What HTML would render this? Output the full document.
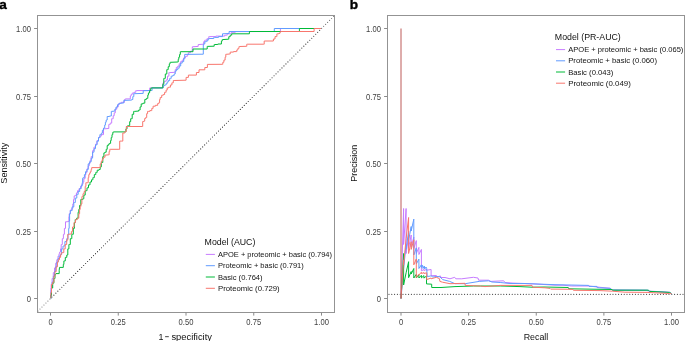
<!DOCTYPE html>
<html><head><meta charset="utf-8"><style>
html,body{margin:0;padding:0;background:#fff;width:685px;height:341px;overflow:hidden}
svg{display:block;font-family:"Liberation Sans",sans-serif}
#w{width:685px;height:341px;will-change:transform}
</style></head><body><div id="w">
<svg width="685" height="341" viewBox="0 0 685 341">
<rect width="685" height="341" fill="#fff"/>
<text x="-0.8" y="9.45" font-size="13.6" stroke="#000" stroke-width="0.4" font-weight="bold" fill="#000">a</text>
<text x="349.7" y="9.4" font-size="13.6" stroke="#000" stroke-width="0.4" font-weight="bold" fill="#000">b</text>
<line x1="38.00" y1="310.95" x2="334.50" y2="15.55" stroke="#333" stroke-width="1.15" stroke-linecap="round" stroke-dasharray="0 2.8"/>
<line x1="37.00" y1="311.95" x2="50.5" y2="298.5" stroke="#fff" stroke-width="2" stroke-opacity="0.35"/>
<line x1="321.5" y1="28.5" x2="335.50" y2="14.55" stroke="#fff" stroke-width="2" stroke-opacity="0.35"/>
<polyline points="50.9,298.3 50.9,290.3 51.2,290.3 51.2,284.4 51.5,284.4 52.1,284.4 52.1,278.5 52.7,278.5 53.3,278.5 53.3,272.6 53.9,272.6 54.5,272.6 54.5,267.9 55.1,267.9 55.7,267.9 55.7,263.2 56.2,263.2 56.8,263.2 56.8,259.7 57.4,259.7 58.0,259.7 58.0,256.2 58.6,256.2 59.0,256.2 59.0,253.7 59.3,253.7 59.7,253.7 59.7,252.0 60.1,252.0 60.5,252.0 60.5,248.9 60.9,248.9 61.2,248.9 61.2,244.5 61.6,244.5 62.3,244.5 62.3,238.7 63.0,238.7 63.4,238.7 63.4,234.3 63.8,234.3 64.4,234.3 64.4,228.4 65.0,228.4 65.5,228.4 65.5,221.8 66.0,221.8 67.5,221.8 67.5,221.4 68.9,221.4 68.9,216.7 69.2,216.7 69.2,213.8 69.6,213.8 70.3,213.8 70.3,210.1 71.1,210.1 71.8,210.1 71.8,208.3 72.4,208.3 72.8,208.3 72.8,203.9 73.1,203.9 73.5,203.9 73.5,199.5 73.9,199.5 74.2,199.5 74.2,195.9 74.6,195.9 75.3,195.9 75.3,195.4 76.1,195.4 76.4,195.4 76.4,192.9 76.8,192.9 77.5,192.9 77.5,190.7 78.2,190.7 79.0,190.7 79.0,188.6 79.7,188.6 80.5,188.6 80.5,186.4 81.2,186.4 81.9,186.4 81.9,184.2 82.6,184.2 83.0,184.2 83.0,182.0 83.4,182.0 83.8,182.0 83.8,179.0 84.1,179.0 84.4,179.0 84.4,178.3 84.8,178.3 85.2,178.3 85.2,174.6 85.6,174.6 85.9,174.6 85.9,172.4 86.3,172.4 87.0,172.4 87.0,168.8 87.8,168.8 88.2,168.8 88.2,165.9 88.5,165.9 89.2,165.9 89.2,162.9 90.0,162.9 90.2,162.9 90.2,160.3 90.4,160.3 91.2,160.3 91.2,156.6 91.9,156.6 92.6,156.6 92.6,150.7 93.3,150.7 94.0,150.7 94.0,147.1 94.8,147.1 95.5,147.1 95.5,144.2 96.2,144.2 97.0,144.2 97.0,140.5 97.7,140.5 98.5,140.5 98.5,137.6 99.2,137.6 99.9,137.6 99.9,136.1 100.6,136.1 101.3,136.1 101.3,134.6 102.1,134.6 103.5,134.6 103.5,128.8 105.0,128.8 108.0,128.5 108.8,128.5 108.8,124.5 109.5,124.5 110.2,124.5 110.2,123.1 110.9,123.1 111.7,123.1 111.7,118.7 112.4,118.7 113.2,118.7 113.2,115.7 113.9,115.7 114.2,115.7 114.2,112.8 114.6,112.8 115.3,112.8 115.3,109.2 116.1,109.2 116.8,109.2 116.8,107.0 117.5,107.0 118.2,107.0 118.2,104.0 119.0,104.0 119.7,104.0 119.7,103.3 120.4,103.3 121.2,103.3 121.2,102.3 121.9,102.3 124.1,102.3 124.4,102.3 124.4,99.6 124.8,99.6 125.3,99.6 125.3,98.9 125.8,98.9 130.0,98.9 130.3,98.9 130.3,96.0 130.7,96.0 131.1,96.0 131.1,94.5 131.4,94.5 132.2,94.5 132.2,93.1 132.9,93.1 134.0,93.1 134.0,92.3 135.1,92.3 135.8,92.3 135.8,90.6 136.6,90.6 149.6,90.5 149.8,87.9 162.6,87.9 162.9,87.9 162.9,83.0 163.2,83.0 163.6,83.0 163.6,82.1 163.9,82.1 164.6,82.1 164.6,81.4 165.3,81.4 166.1,81.4 166.1,79.9 166.8,79.9 167.5,79.9 167.5,76.2 168.2,76.2 168.9,76.2 168.9,72.6 169.7,72.6 174.8,72.3 175.2,72.3 175.2,69.6 175.6,69.6 176.3,69.6 176.3,67.4 177.0,67.4 177.8,67.4 177.8,66.0 178.5,66.0 179.2,66.0 179.2,63.8 180.0,63.8 180.7,63.8 180.7,61.6 181.4,61.6 182.2,61.6 182.2,60.1 182.9,60.1 183.7,60.1 183.7,57.9 184.4,57.9 185.4,57.9 185.4,56.5 186.5,56.5 187.2,56.5 187.2,54.9 187.9,54.9 188.3,54.9 188.3,52.7 188.7,52.7 190.5,52.7 190.5,51.2 192.3,51.2 192.3,46.8 198.2,46.4 198.2,44.6 203.3,44.2 203.7,44.2 203.7,41.7 204.0,41.7 204.8,41.7 204.8,40.2 205.5,40.2 206.9,40.2 206.9,38.8 208.4,38.8 208.8,38.8 208.8,36.6 209.2,36.6 215.8,36.6 215.8,36.1 222.5,36.1 224.7,36.1 224.7,35.2 226.9,35.2 227.2,35.2 227.2,33.8 227.6,33.8 231.3,33.8 231.3,32.3 235.0,32.3 235.3,32.3 235.3,31.6 235.7,31.6 280.4,31.5 280.4,28.5 321.2,28.5" fill="none" stroke="#C77CFF" stroke-width="1" stroke-linejoin="miter"/>
<polyline points="50.9,298.3 51.2,298.3 51.2,288.0 51.5,288.0 52.1,288.0 52.1,282.1 52.7,282.1 53.3,282.1 53.3,276.2 53.9,276.2 54.5,276.2 54.5,271.5 55.1,271.5 55.7,271.5 55.7,266.8 56.2,266.8 56.8,266.8 56.8,262.1 57.4,262.1 58.0,262.1 58.0,258.5 58.6,258.5 59.2,258.5 59.2,256.2 59.8,256.2 60.3,256.2 60.3,254.5 60.9,254.5 61.6,254.5 61.6,248.9 62.3,248.9 63.0,248.9 63.0,246.0 63.8,246.0 64.9,246.0 64.9,241.6 66.0,241.6 66.7,241.6 66.7,238.7 67.4,238.7 68.0,238.7 68.0,234.3 68.5,234.3 68.7,234.3 68.7,228.4 68.9,228.4 69.2,228.4 69.2,221.1 69.6,221.1 69.6,213.8 70.3,213.8 70.3,210.6 71.1,210.6 72.1,210.6 72.1,206.9 73.1,206.9 73.8,206.9 73.8,202.5 74.6,202.5 75.3,202.5 75.3,198.1 76.1,198.1 76.8,198.1 76.8,194.4 77.5,194.4 78.2,194.4 78.2,191.5 79.0,191.5 79.7,191.5 79.7,188.6 80.4,188.6 81.2,188.6 81.2,185.6 81.9,185.6 82.2,185.6 82.2,182.7 82.6,182.7 82.6,178.3 83.3,178.3 83.3,177.6 84.1,177.6 84.4,177.6 84.4,174.6 84.8,174.6 85.5,174.6 85.5,171.7 86.3,171.7 86.9,171.7 86.9,169.5 87.5,169.5 88.2,169.5 88.2,163.9 88.9,163.9 89.7,163.9 89.7,161.7 90.4,161.7 91.2,161.7 91.2,158.1 91.9,158.1 92.6,158.1 92.6,152.2 93.3,152.2 94.0,152.2 94.0,148.6 94.8,148.6 95.5,148.6 95.5,144.9 96.2,144.9 97.0,144.9 97.0,141.2 97.7,141.2 98.5,141.2 98.5,137.6 99.2,137.6 99.9,137.6 99.9,134.6 100.6,134.6 101.3,134.6 101.3,133.2 102.1,133.2 102.4,133.2 102.4,130.2 102.8,130.2 103.5,130.2 103.5,128.1 104.3,128.1 104.7,128.1 104.7,125.1 105.0,125.1 105.4,125.1 105.4,122.2 105.8,122.2 106.2,122.2 106.2,120.0 106.5,120.0 107.2,120.0 107.2,116.5 108.0,116.5 109.5,116.5 109.5,116.0 110.9,116.0 111.3,116.0 111.3,111.4 111.7,111.4 114.6,111.1 114.9,111.1 114.9,109.2 115.3,109.2 116.0,109.2 116.0,107.0 116.8,107.0 117.5,107.0 117.5,104.8 118.2,104.8 119.0,104.8 119.0,103.3 119.7,103.3 123.4,103.0 123.8,103.0 123.8,100.4 124.1,100.4 131.5,100.1 131.8,100.1 131.8,99.5 132.0,99.5 132.8,99.5 132.8,96.6 133.5,96.6 133.8,96.6 133.8,93.7 134.2,93.7 143.0,93.4 143.2,93.4 143.2,90.7 143.4,90.7 151.8,90.5 152.1,90.5 152.1,87.9 152.3,87.9 162.4,87.9 163.2,87.9 163.2,85.7 163.9,85.7 164.6,85.7 164.6,85.0 165.3,85.0 166.1,85.0 166.1,83.6 166.8,83.6 167.2,83.6 167.2,82.1 167.5,82.1 168.2,82.1 168.2,80.6 169.0,80.6 169.7,80.6 169.7,78.4 170.4,78.4 171.2,78.4 171.2,76.2 171.9,76.2 172.7,76.2 172.7,75.5 173.4,75.5 174.1,75.5 174.1,74.0 174.8,74.0 175.2,74.0 175.2,71.1 175.6,71.1 176.3,71.1 176.3,69.6 177.0,69.6 177.8,69.6 177.8,68.2 178.5,68.2 179.2,68.2 179.2,66.0 180.0,66.0 180.7,66.0 180.7,63.1 181.4,63.1 182.2,63.1 182.2,61.6 182.9,61.6 183.7,61.6 183.7,58.7 184.4,58.7 184.7,58.7 184.7,54.4 185.0,54.4 203.3,54.2 203.3,44.6 203.7,44.6 203.7,43.9 204.0,43.9 204.8,43.9 204.8,41.7 205.5,41.7 206.3,41.7 206.3,41.0 207.1,41.0 207.8,41.0 207.8,39.4 208.4,39.4 208.8,39.4 208.8,38.5 209.2,38.5 213.0,38.5 213.8,38.5 213.8,37.4 214.5,37.4 218.5,37.4 218.5,36.6 222.5,36.6 222.5,33.8 229.1,33.5 229.1,31.5 274.3,31.5 274.3,28.5 321.2,28.5" fill="none" stroke="#619CFF" stroke-width="1" stroke-linejoin="miter"/>
<polyline points="50.9,298.3 50.9,295.1 51.5,295.1 51.5,288.0 52.1,288.0 52.7,288.0 52.7,283.2 53.3,283.2 53.9,283.2 53.9,278.5 54.5,278.5 55.0,278.5 55.0,274.4 55.6,274.4 56.0,273.6 59.2,273.6 59.2,270.3 59.5,267.4 63.3,267.4 63.3,264.4 63.9,264.4 63.9,260.9 64.5,260.9 65.3,260.9 65.3,257.4 66.2,257.4 66.8,257.4 66.8,255.0 67.4,255.0 67.8,255.0 67.8,248.9 68.2,248.9 68.9,248.9 68.9,244.5 69.6,244.5 70.3,244.5 70.3,238.7 71.1,238.7 71.8,238.7 71.8,234.3 72.6,234.3 73.3,234.3 73.3,228.4 74.0,228.4 74.4,228.4 74.4,222.6 74.8,222.6 75.2,222.6 75.2,219.6 75.5,219.6 76.6,219.6 76.6,218.2 77.7,218.2 78.1,218.2 78.1,212.3 78.4,212.3 78.8,212.3 78.8,209.4 79.2,209.4 79.5,209.4 79.5,205.4 79.7,205.4 80.8,205.4 80.8,199.5 81.9,199.5 82.7,199.5 82.7,198.8 83.4,198.8 83.8,198.8 83.8,195.1 84.1,195.1 85.2,195.1 85.2,190.7 86.3,190.7 87.0,190.7 87.0,187.8 87.8,187.8 88.5,187.8 88.5,184.9 89.2,184.9 90.0,184.9 90.0,182.0 90.7,182.0 91.5,182.0 91.5,179.8 92.2,179.8 92.9,179.8 92.9,177.6 93.6,177.6 94.3,177.6 94.3,174.6 95.1,174.6 95.8,174.6 95.8,172.4 96.5,172.4 97.2,172.4 97.2,170.2 98.0,170.2 99.0,170.2 99.0,169.5 99.9,169.5 100.2,169.5 100.2,166.9 100.6,166.9 101.3,166.9 101.3,162.5 102.1,162.5 102.8,162.5 102.8,156.6 103.6,156.6 103.9,156.6 103.9,152.9 104.3,152.9 105.0,152.9 105.0,152.2 105.8,152.2 106.2,152.2 106.2,149.3 106.5,149.3 107.2,149.3 107.2,145.6 108.0,145.6 108.3,145.6 108.3,144.2 108.7,144.2 109.5,144.2 109.5,143.4 110.2,143.4 110.6,143.4 110.6,140.5 110.9,140.5 111.2,140.5 111.2,137.6 111.6,137.6 112.0,137.6 112.0,134.6 112.4,134.6 112.8,134.6 112.8,132.4 113.1,132.4 113.3,132.4 113.3,131.9 113.6,131.9 125.6,131.9 125.9,131.9 125.9,128.9 126.3,128.9 127.0,128.9 127.0,126.0 127.8,126.0 128.6,126.0 128.6,125.6 129.3,125.6 129.7,125.6 129.7,121.6 130.0,121.6 130.7,121.6 130.7,118.7 131.4,118.7 132.2,118.7 132.2,114.3 132.9,114.3 133.7,114.3 133.7,111.4 134.4,111.4 138.0,111.1 138.7,111.1 138.7,110.0 139.3,110.0 140.1,110.0 140.1,106.9 140.8,106.9 141.2,106.9 141.2,103.9 141.5,103.9 142.9,103.9 142.9,103.2 144.4,103.2 144.8,103.2 144.8,99.5 145.2,99.5 146.3,99.5 146.3,98.4 147.4,98.4 147.8,98.4 147.8,95.1 148.1,95.1 148.4,95.1 148.4,92.9 148.8,92.9 149.6,92.9 149.6,90.7 150.3,90.7 150.7,90.7 150.7,88.5 151.0,88.5 151.2,88.5 151.2,87.9 151.5,87.9 162.4,87.9 162.8,87.9 162.8,84.3 163.1,84.3 163.8,84.3 163.8,78.4 164.6,78.4 165.3,78.4 165.3,74.0 166.1,74.0 166.8,74.0 166.8,69.6 167.5,69.6 168.2,69.6 168.2,66.7 169.0,66.7 169.3,66.7 169.3,63.8 169.7,63.8 170.1,63.8 170.1,62.3 170.4,62.3 177.8,62.0 178.2,62.0 178.2,59.4 178.5,59.4 178.8,59.4 178.8,57.2 179.2,57.2 179.6,57.2 179.6,54.5 180.0,54.5 180.3,54.5 180.3,51.7 180.6,51.7 193.0,51.7 193.0,49.0 207.0,49.0 207.2,49.0 207.2,46.4 207.5,46.4 214.0,46.2 214.2,46.2 214.2,44.5 214.5,44.5 217.8,44.5 217.8,44.0 221.0,44.0 221.4,44.0 221.4,41.1 221.8,41.1 222.2,41.1 222.2,39.6 222.5,39.6 228.4,39.2 228.8,39.2 228.8,36.7 229.1,36.7 230.2,36.7 230.2,35.2 231.3,35.2 231.7,35.2 231.7,33.8 232.0,33.8 249.4,33.8 249.4,31.5 299.4,31.5 299.4,28.5 321.2,28.5" fill="none" stroke="#00BA38" stroke-width="1" stroke-linejoin="miter"/>
<polyline points="50.9,298.3 50.9,292.6 51.5,292.6 51.5,284.4 52.1,284.4 52.7,284.4 52.7,282.1 53.3,282.1 53.9,282.1 53.9,276.2 54.5,276.2 55.0,276.2 55.0,271.5 55.6,271.5 56.2,271.5 56.2,266.8 56.8,266.8 57.4,266.8 57.4,262.1 58.0,262.1 58.3,262.1 58.3,259.7 58.6,259.7 59.5,259.7 59.5,257.4 60.4,257.4 60.6,257.4 60.6,255.0 60.9,255.0 61.2,255.0 61.2,253.0 61.5,253.0 62.3,253.0 62.3,252.6 63.1,252.6 63.8,252.6 63.8,248.9 64.5,248.9 65.2,248.9 65.2,244.5 66.0,244.5 66.7,244.5 66.7,240.1 67.4,240.1 67.8,240.1 67.8,234.3 68.2,234.3 71.1,234.0 71.4,234.0 71.4,231.4 71.8,231.4 72.5,231.4 72.5,227.0 73.3,227.0 74.0,227.0 74.0,222.6 74.8,222.6 75.5,222.6 75.5,219.6 76.2,219.6 77.3,219.6 77.3,218.2 78.4,218.2 78.8,218.2 78.8,213.8 79.2,213.8 79.6,213.8 79.6,209.4 79.9,209.4 80.2,209.4 80.2,206.5 80.6,206.5 80.9,206.5 80.9,203.9 81.2,203.9 81.9,203.9 81.9,196.6 82.6,196.6 83.0,196.6 83.0,193.7 83.4,193.7 84.1,193.7 84.1,191.5 84.8,191.5 85.2,191.5 85.2,186.4 85.6,186.4 85.9,186.4 85.9,182.7 86.3,182.7 87.8,182.7 88.2,182.7 88.2,177.6 88.5,177.6 88.8,177.6 88.8,174.6 89.2,174.6 89.6,174.6 89.6,173.2 90.0,173.2 90.3,173.2 90.3,171.7 90.7,171.7 91.1,171.7 91.1,169.5 91.4,169.5 91.7,169.5 91.7,167.6 91.9,167.6 99.9,167.6 100.2,167.6 100.2,163.9 100.6,163.9 101.3,163.9 101.3,161.0 102.1,161.0 102.4,161.0 102.4,158.8 102.8,158.8 103.5,158.8 103.5,157.3 104.3,157.3 105.0,157.3 105.0,155.1 105.8,155.1 108.7,154.8 109.1,154.8 109.1,151.5 109.4,151.5 109.8,151.5 109.8,149.3 110.2,149.3 118.1,149.3 119.7,149.3 119.7,141.1 121.2,141.1 122.8,141.1 122.8,133.0 124.3,133.0 124.9,133.0 124.9,131.5 125.6,131.5 126.3,131.5 126.3,126.5 127.0,126.5 142.5,126.5 142.7,126.5 142.7,121.5 142.9,121.5 143.8,121.5 143.8,121.1 144.7,121.1 144.7,118.5 145.6,118.5 145.6,117.6 146.4,117.6 146.7,117.6 146.7,113.6 146.9,113.6 147.6,113.6 147.6,111.4 148.2,111.4 149.8,111.4 149.8,110.6 151.3,110.6 151.8,110.6 151.8,108.4 152.2,108.4 153.1,108.4 153.1,106.2 153.9,106.2 155.4,106.2 155.4,105.3 157.0,105.3 157.7,105.3 157.7,103.5 158.3,103.5 158.9,103.5 158.9,102.6 159.6,102.6 159.6,99.5 160.2,99.5 160.2,97.5 160.9,97.5 161.7,97.5 161.7,95.3 162.4,95.3 163.2,95.3 163.2,94.5 163.9,94.5 164.6,94.5 164.6,92.3 165.3,92.3 166.1,92.3 166.1,90.1 166.8,90.1 167.2,90.1 167.2,87.9 167.5,87.9 168.6,87.9 168.6,87.2 169.7,87.2 170.4,87.2 170.4,85.0 171.2,85.0 171.9,85.0 171.9,82.8 172.6,82.8 173.3,82.8 173.3,80.5 174.1,80.5 186.1,80.2 186.1,77.4 188.4,77.4 188.4,75.1 196.4,75.1 196.4,72.5 199.0,72.5 199.0,69.8 204.8,69.8 204.8,67.5 207.4,67.5 207.4,64.4 222.5,64.3 222.8,64.3 222.8,62.3 223.2,62.3 223.9,62.3 223.9,60.1 224.7,60.1 225.1,60.1 225.1,57.2 225.4,57.2 225.8,57.2 225.8,54.3 226.2,54.3 229.8,54.0 230.2,54.0 230.2,52.1 230.6,52.1 233.5,52.1 233.5,51.6 236.4,51.6 236.8,51.6 236.8,49.9 237.2,49.9 237.9,49.9 237.9,48.4 238.6,48.4 239.0,48.4 239.0,46.5 239.4,46.5 246.3,46.3 246.8,46.3 246.8,44.2 247.3,44.2 263.7,44.2 264.2,44.2 264.2,41.0 264.8,41.0 273.0,41.0 273.4,41.0 273.4,39.0 273.8,39.0 275.0,39.0 275.0,36.6 276.2,36.6 276.9,36.6 276.9,33.8 277.6,33.8 278.8,33.8 278.8,33.3 280.0,33.3 280.4,31.5 314.1,31.5 314.1,28.5 321.2,28.5" fill="none" stroke="#F8766D" stroke-width="1" stroke-linejoin="miter"/>
<rect x="37.5" y="15.5" width="297.0" height="297" fill="none" stroke="#939393" stroke-width="1"/>
<line x1="34.1" y1="298.50" x2="37.5" y2="298.50" stroke="#8a8a8a" stroke-width="1"/>
<line x1="50.50" y1="312.5" x2="50.50" y2="315.6" stroke="#8a8a8a" stroke-width="1"/>
<text x="26.67" y="301.60" font-size="9.2" textLength="4.23" lengthAdjust="spacingAndGlyphs" fill="#404040">0</text>
<text x="48.39" y="324.70" font-size="9.2" textLength="4.23" lengthAdjust="spacingAndGlyphs" fill="#404040">0</text>
<line x1="34.1" y1="231.50" x2="37.5" y2="231.50" stroke="#8a8a8a" stroke-width="1"/>
<line x1="118.25" y1="312.5" x2="118.25" y2="315.6" stroke="#8a8a8a" stroke-width="1"/>
<text x="16.11" y="234.60" font-size="9.2" textLength="14.79" lengthAdjust="spacingAndGlyphs" fill="#404040">0.25</text>
<text x="110.85" y="324.70" font-size="9.2" textLength="14.79" lengthAdjust="spacingAndGlyphs" fill="#404040">0.25</text>
<line x1="34.1" y1="163.50" x2="37.5" y2="163.50" stroke="#8a8a8a" stroke-width="1"/>
<line x1="186.00" y1="312.5" x2="186.00" y2="315.6" stroke="#8a8a8a" stroke-width="1"/>
<text x="16.11" y="166.60" font-size="9.2" textLength="14.79" lengthAdjust="spacingAndGlyphs" fill="#404040">0.50</text>
<text x="178.60" y="324.70" font-size="9.2" textLength="14.79" lengthAdjust="spacingAndGlyphs" fill="#404040">0.50</text>
<line x1="34.1" y1="96.50" x2="37.5" y2="96.50" stroke="#8a8a8a" stroke-width="1"/>
<line x1="253.75" y1="312.5" x2="253.75" y2="315.6" stroke="#8a8a8a" stroke-width="1"/>
<text x="16.11" y="99.60" font-size="9.2" textLength="14.79" lengthAdjust="spacingAndGlyphs" fill="#404040">0.75</text>
<text x="246.35" y="324.70" font-size="9.2" textLength="14.79" lengthAdjust="spacingAndGlyphs" fill="#404040">0.75</text>
<line x1="34.1" y1="28.50" x2="37.5" y2="28.50" stroke="#8a8a8a" stroke-width="1"/>
<line x1="321.50" y1="312.5" x2="321.50" y2="315.6" stroke="#8a8a8a" stroke-width="1"/>
<text x="16.11" y="31.60" font-size="9.2" textLength="14.79" lengthAdjust="spacingAndGlyphs" fill="#404040">1.00</text>
<text x="314.10" y="324.70" font-size="9.2" textLength="14.79" lengthAdjust="spacingAndGlyphs" fill="#404040">1.00</text>
<text x="158.4" y="339.8" font-size="8.9" fill="#111">1</text>
<rect x="165.1" y="336.3" width="3.7" height="0.85" fill="#222"/>
<text x="171.4" y="339.8" font-size="8.9" textLength="40.6" lengthAdjust="spacingAndGlyphs" fill="#111">specificity</text>
<text transform="translate(7.1,163.2) rotate(-90)" x="0" y="0" font-size="9.1" text-anchor="middle" fill="#111">Sensitivity</text>
<line x1="389.0" y1="294.3" x2="684.5" y2="294.3" stroke="#333" stroke-width="1.15" stroke-linecap="round" stroke-dasharray="0 2.8"/>
<polyline points="401.0,298.5 403.6,208.5 403.6,244.5 406.1,208.5 406.1,253.5 408.6,236.2 408.6,247.9 411.2,235.0 411.2,247.1 413.8,237.1 413.8,248.5 416.3,240.6 416.3,253.5 418.9,247.4 418.9,254.5 421.4,249.4 421.4,270.8 424.0,269.5 424.0,270.5 426.7,269.3 426.7,270.2 431.1,269.5 431.1,275.7 436.4,275.5 436.4,277.0 440.6,276.0 440.6,277.5 445.0,277.5 450.0,278.8 454.7,277.3 455.8,278.8 461.7,278.8 473.4,277.3 478.0,278.0 478.6,280.2 488.5,280.2 490.9,281.4 503.7,280.8 505.0,282.5 513.0,283.1 530.0,283.7 555.0,285.2 563.0,285.2 571.3,286.0 588.7,286.0 600.0,287.3 610.2,288.3 612.2,290.0 647.0,290.3 648.0,291.0 662.0,291.8 669.5,292.4 671.4,293.6" fill="none" stroke="#C77CFF" stroke-width="1" stroke-linejoin="miter"/>
<polyline points="401.0,298.5 403.6,268.5 403.6,268.5 406.1,244.5 406.1,249.4 408.6,231.0 408.6,240.6 411.2,226.5 411.2,231.0 413.8,219.1 413.8,255.0 416.3,247.9 416.3,264.0 418.9,259.1 418.9,268.5 421.4,264.8 421.4,267.5 422.6,265.3 423.0,268.5 424.3,266.0 424.7,269.0 426.0,267.0 426.7,268.5 427.2,276.5 430.2,276.1 431.0,275.7 432.8,277.0 436.4,276.5 439.9,276.8 442.7,279.6 449.7,281.4 455.0,283.7 465.2,283.7 479.2,281.4 488.5,280.8 492.0,282.0 500.2,282.5 510.0,283.5 525.0,283.5 537.0,284.0 555.0,284.7 588.7,285.4 589.0,286.4 596.9,286.4 597.2,287.6 599.4,287.8 610.2,288.3 612.2,290.0 648.4,290.2 649.6,291.4 669.5,292.4 671.4,293.6" fill="none" stroke="#619CFF" stroke-width="1" stroke-linejoin="miter"/>
<polyline points="401.0,298.5 403.6,253.5 403.6,285.0 406.1,272.8 406.1,272.8 408.6,261.7 408.6,277.7 411.2,271.5 411.2,274.0 413.8,268.5 413.8,278.0 416.3,274.3 416.3,278.0 418.9,274.9 418.9,278.0 421.4,275.3 421.4,277.9 423.9,275.6 423.9,278.1 426.5,276.0 426.5,283.9 431.7,284.2 431.7,287.5 441.0,287.5 455.0,286.6 473.4,286.0 480.4,286.0 500.2,286.0 520.0,286.6 532.0,287.2 544.0,287.0 568.3,287.5 568.8,288.8 612.2,289.5 612.4,290.2 648.4,290.2 649.6,291.4 669.5,292.4 671.4,293.6" fill="none" stroke="#00BA38" stroke-width="1" stroke-linejoin="miter"/>
<polyline points="401.0,298.5 403.6,259.9 403.6,264.8 406.1,238.5 406.1,238.5 408.6,217.5 408.6,253.5 411.2,241.7 411.2,249.4 413.8,239.8 413.8,264.8 416.3,259.0 416.3,277.5 418.9,274.3 418.9,275.0 421.4,272.2 421.4,273.6 424.0,272.6 424.0,273.5 426.7,272.8 426.7,279.6 431.1,278.0 431.1,278.8 436.4,277.3 439.5,278.7 439.9,281.4 442.5,282.2 450.0,283.7 465.0,283.3 465.2,285.4 480.4,286.0 485.0,286.6 500.2,285.4 514.0,285.4 530.0,285.4 532.0,285.4 532.6,287.2 545.0,287.8 550.0,288.4 550.7,289.1 572.9,289.3 573.4,290.3 600.0,290.6 612.4,291.2 624.8,292.2 647.1,292.4 669.5,293.5 671.4,293.6" fill="none" stroke="#F8766D" stroke-width="1" stroke-linejoin="miter"/>
<line x1="401.0" y1="28.50" x2="401.0" y2="298.50" stroke="#bd5a58" stroke-width="1"/>
<rect x="387.5" y="15.5" width="297.0" height="297" fill="none" stroke="#939393" stroke-width="1"/>
<line x1="384.1" y1="298.50" x2="387.5" y2="298.50" stroke="#8a8a8a" stroke-width="1"/>
<line x1="401.00" y1="312.5" x2="401.00" y2="315.6" stroke="#8a8a8a" stroke-width="1"/>
<text x="376.67" y="301.60" font-size="9.2" textLength="4.23" lengthAdjust="spacingAndGlyphs" fill="#404040">0</text>
<text x="398.89" y="324.70" font-size="9.2" textLength="4.23" lengthAdjust="spacingAndGlyphs" fill="#404040">0</text>
<line x1="384.1" y1="231.50" x2="387.5" y2="231.50" stroke="#8a8a8a" stroke-width="1"/>
<line x1="468.62" y1="312.5" x2="468.62" y2="315.6" stroke="#8a8a8a" stroke-width="1"/>
<text x="366.11" y="234.60" font-size="9.2" textLength="14.79" lengthAdjust="spacingAndGlyphs" fill="#404040">0.25</text>
<text x="461.23" y="324.70" font-size="9.2" textLength="14.79" lengthAdjust="spacingAndGlyphs" fill="#404040">0.25</text>
<line x1="384.1" y1="163.50" x2="387.5" y2="163.50" stroke="#8a8a8a" stroke-width="1"/>
<line x1="536.25" y1="312.5" x2="536.25" y2="315.6" stroke="#8a8a8a" stroke-width="1"/>
<text x="366.11" y="166.60" font-size="9.2" textLength="14.79" lengthAdjust="spacingAndGlyphs" fill="#404040">0.50</text>
<text x="528.85" y="324.70" font-size="9.2" textLength="14.79" lengthAdjust="spacingAndGlyphs" fill="#404040">0.50</text>
<line x1="384.1" y1="96.50" x2="387.5" y2="96.50" stroke="#8a8a8a" stroke-width="1"/>
<line x1="603.88" y1="312.5" x2="603.88" y2="315.6" stroke="#8a8a8a" stroke-width="1"/>
<text x="366.11" y="99.60" font-size="9.2" textLength="14.79" lengthAdjust="spacingAndGlyphs" fill="#404040">0.75</text>
<text x="596.48" y="324.70" font-size="9.2" textLength="14.79" lengthAdjust="spacingAndGlyphs" fill="#404040">0.75</text>
<line x1="384.1" y1="28.50" x2="387.5" y2="28.50" stroke="#8a8a8a" stroke-width="1"/>
<line x1="671.50" y1="312.5" x2="671.50" y2="315.6" stroke="#8a8a8a" stroke-width="1"/>
<text x="366.11" y="31.60" font-size="9.2" textLength="14.79" lengthAdjust="spacingAndGlyphs" fill="#404040">1.00</text>
<text x="664.10" y="324.70" font-size="9.2" textLength="14.79" lengthAdjust="spacingAndGlyphs" fill="#404040">1.00</text>
<text x="536.0" y="339.8" font-size="8.9" text-anchor="middle" fill="#111">Recall</text>
<text transform="translate(357.0,163.2) rotate(-90)" x="0" y="0" font-size="9.0" text-anchor="middle" fill="#111">Precision</text>
<text x="204.6" y="245.0" font-size="8.75" textLength="50.8" lengthAdjust="spacingAndGlyphs" fill="#111">Model (AUC)</text>
<line x1="205.79999999999998" y1="254.4" x2="214.9" y2="254.4" stroke="#C77CFF" stroke-width="1"/>
<text x="218.0" y="257.0" font-size="7.6" textLength="114.0" lengthAdjust="spacingAndGlyphs" fill="#111">APOE + proteomic + basic (0.794)</text>
<line x1="205.79999999999998" y1="265.7" x2="214.9" y2="265.7" stroke="#619CFF" stroke-width="1"/>
<text x="218.0" y="268.3" font-size="7.6" textLength="85.8" lengthAdjust="spacingAndGlyphs" fill="#111">Proteomic + basic (0.791)</text>
<line x1="205.79999999999998" y1="277" x2="214.9" y2="277" stroke="#00BA38" stroke-width="1"/>
<text x="218.0" y="279.6" font-size="7.6" textLength="44.6" lengthAdjust="spacingAndGlyphs" fill="#111">Basic (0.764)</text>
<line x1="205.79999999999998" y1="288.3" x2="214.9" y2="288.3" stroke="#F8766D" stroke-width="1"/>
<text x="218.0" y="290.9" font-size="7.6" textLength="61.7" lengthAdjust="spacingAndGlyphs" fill="#111">Proteomic (0.729)</text>
<text x="554.8" y="40.2" font-size="8.75" textLength="66.0" lengthAdjust="spacingAndGlyphs" fill="#111">Model (PR-AUC)</text>
<line x1="556.0" y1="49.6" x2="565.0999999999999" y2="49.6" stroke="#C77CFF" stroke-width="1"/>
<text x="568.2" y="52.2" font-size="7.6" textLength="115.2" lengthAdjust="spacingAndGlyphs" fill="#111">APOE + proteomic + basic (0.065)</text>
<line x1="556.0" y1="60.8" x2="565.0999999999999" y2="60.8" stroke="#619CFF" stroke-width="1"/>
<text x="568.2" y="63.4" font-size="7.6" textLength="88.8" lengthAdjust="spacingAndGlyphs" fill="#111">Proteomic + basic (0.060)</text>
<line x1="556.0" y1="72.0" x2="565.0999999999999" y2="72.0" stroke="#00BA38" stroke-width="1"/>
<text x="568.2" y="74.6" font-size="7.6" textLength="45.2" lengthAdjust="spacingAndGlyphs" fill="#111">Basic (0.043)</text>
<line x1="556.0" y1="83.2" x2="565.0999999999999" y2="83.2" stroke="#F8766D" stroke-width="1"/>
<text x="568.2" y="85.8" font-size="7.6" textLength="62.6" lengthAdjust="spacingAndGlyphs" fill="#111">Proteomic (0.049)</text>
</svg>
</div></body></html>
